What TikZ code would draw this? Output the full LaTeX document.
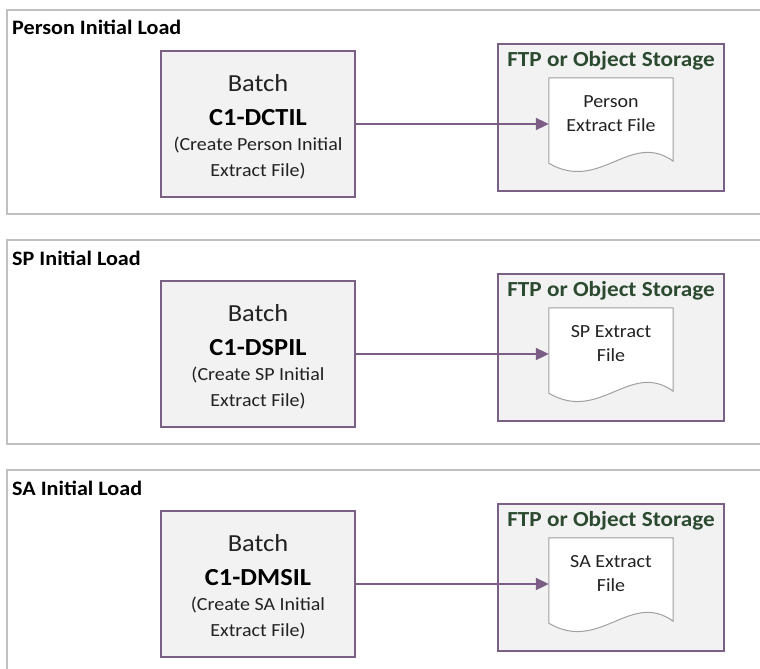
\documentclass[tikz,border=0pt]{standalone}
\usepackage{fontspec}
\setmainfont{Carlito}[FakeStretch=1.08]
\usetikzlibrary{arrows.meta,calc}

\definecolor{panelgray}{HTML}{C0C0C0}
\definecolor{boxfill}{HTML}{F2F2F2}
\definecolor{boxline}{HTML}{7A6084}
\definecolor{flowline}{HTML}{7B5D85}
\definecolor{storegreen}{HTML}{2B4A30}
\definecolor{docline}{HTML}{A0A0A0}
\definecolor{inktext}{HTML}{222222}

\tikzset{
  panel/.style={draw=panelgray, line width=1.4pt, fill=white, minimum width=763pt, minimum height=204pt, inner sep=0pt},
  panelTitle/.style={anchor=base west, inner sep=0pt, font=\fontsize{20.5}{24}\selectfont\bfseries, text=black},
  batchbox/.style={draw=boxline, line width=1.6pt, fill=boxfill, minimum width=194pt, minimum height=146pt, inner sep=0pt},
  storebox/.style={draw=boxline, line width=1.6pt, fill=boxfill, minimum width=226pt, minimum height=147pt, inner sep=0pt},
  docarea/.style={minimum width=124pt, minimum height=83pt, inner sep=0pt},
  docshape/.style={draw=docline, line width=1pt, fill=white},
  txtBig/.style={anchor=base, inner sep=0pt, font=\fontsize{24.5}{28}\selectfont, text=inktext},
  txtCode/.style={anchor=base, inner sep=0pt, font=\fontsize{24.5}{28}\selectfont\bfseries, text=black},
  txtBody/.style={anchor=base, inner sep=0pt, font=\fontsize{18.5}{22}\selectfont, text=inktext},
  txtStore/.style={anchor=base, inner sep=0pt, font=\fontsize{21.5}{25}\selectfont\bfseries, text=storegreen},
  flow/.style={draw=flowline, line width=2pt, -{Triangle[length=13pt,width=12pt]}},
}

% one load panel: #1 top offset, #2 id, #3 title, #4 batch code,
% #5/#6 description lines, #7/#8 extract file lines
\newcommand\loadpanel[8]{%
  \begin{scope}[shift={(0,#1)}]
    \node[panel] (p#2) at (388.5,102) {};
    \node[panelTitle] (t#2) at (12,25) {#3};
    % batch job box
    \node[batchbox] (b#2) at (258,114) {};
    \node[txtBig]  (bt#2) at (258,81) {Batch};
    \node[txtCode] (bc#2) at (258,115) {#4};
    \node[txtBody] (bd#2) at (258,140.5) {#5};
    \node[txtBody] (be#2) at (258,166) {#6};
    % storage box with the extract file
    \node[storebox] (s#2) at (611,107.5) {};
    \node[txtStore] (f#2) at (611,56.7) {FTP or Object Storage};
    \node[docarea] (d#2) at (611,109.5) {};
    \draw[docshape] (d#2.north west) -- (d#2.north east) -- (d#2.south east)
      .. controls ($(d#2.south east)+(-43,-31)$) and ($(d#2.south west)+(51,32)$) ..
      ($(d#2.south west)+(0,2)$) -- cycle;
    \node[txtBody] (x#2) at (611,97.3) {#7};
    \node[txtBody] (y#2) at (611,121.5) {#8};
    % job writes the file
    \draw[flow] (b#2.east) -- (b#2.east -| d#2.west);
  \end{scope}}

\begin{document}
\begin{tikzpicture}[x=1pt, y=-1pt]
  \clip (0,0) rectangle (760,669);
  \fill[white] (0,0) rectangle (760,669);
  \loadpanel{10}{1}{Person Initial Load}{C1-DCTIL}{(Create Person Initial}{Extract File)}{Person}{Extract File}
  \loadpanel{240}{2}{SP Initial Load}{C1-DSPIL}{(Create SP Initial}{Extract File)}{SP Extract}{File}
  \loadpanel{470}{3}{SA Initial Load}{C1-DMSIL}{(Create SA Initial}{Extract File)}{SA Extract}{File}
\end{tikzpicture}
\end{document}
